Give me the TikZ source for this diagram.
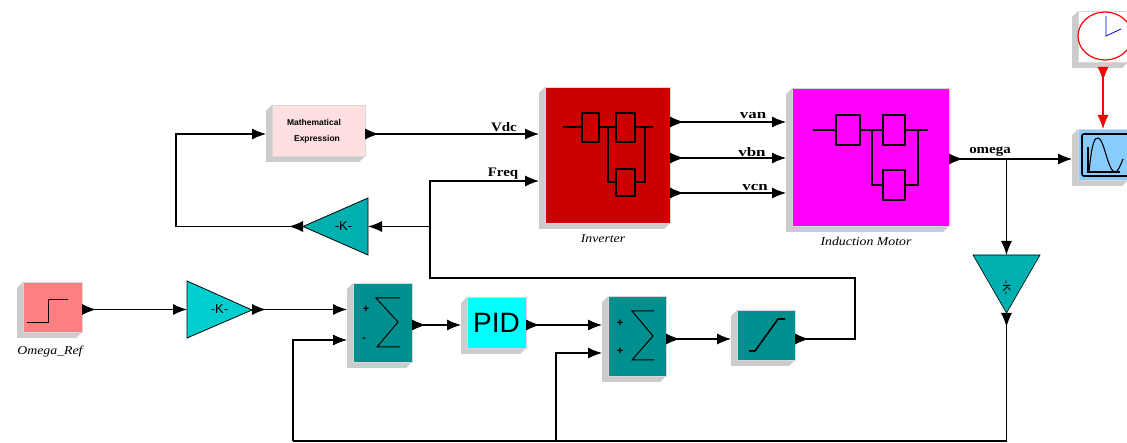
\documentclass[tikz,border=0pt]{standalone}
\usepackage{fontspec}
\setmainfont{Liberation Serif}
\setsansfont{Liberation Sans}
\usetikzlibrary{arrows.meta,decorations.markings}
\definecolor{blockshadow}{HTML}{CCCCCC}
\definecolor{edgelt}{HTML}{D8D8D8}
\definecolor{invred}{HTML}{CC0000}
\definecolor{motormag}{HTML}{FF00FF}
\definecolor{steppink}{HTML}{FF8080}
\definecolor{gainA}{HTML}{00CFCF}
\definecolor{gainB}{HTML}{00AFAF}
\definecolor{sumteal}{HTML}{008F8F}
\definecolor{pidcy}{HTML}{00FFFF}
\definecolor{mathpk}{HTML}{FFE0E0}
\definecolor{scopeb}{HTML}{88CCFF}
\tikzset{
  x=1pt,y=-1pt,
  face/.style={draw=edgelt,line width=.6pt,inner sep=0pt,outer sep=0pt,rectangle},
  gainnode/.style={inner sep=0pt,outer sep=0pt,rectangle,font=\sffamily\fontsize{13}{13}\selectfont},
  gainshape/.style={draw=black,line width=.8pt},
  plainwire/.style={line width=1.1pt},
  inwire/.style={plainwire,line join=miter,-{Latex[length=14pt,width=11pt]}},
  tailwire/.style={plainwire,postaction={decorate},
    decoration={markings,mark=at position 14pt with {\arrow{Latex[length=14pt,width=11pt]}}}},
  wire/.style={inwire,postaction={decorate},
    decoration={markings,mark=at position 14pt with {\arrow{Latex[length=14pt,width=11pt]}}}},
  icon/.style={line width=1pt},
  iconthick/.style={line width=2pt,line join=round},
  siglabel/.style={inner sep=0pt,font=\bfseries\fontsize{13}{13}\selectfont},
  captiontext/.style={inner sep=0pt,font=\itshape\fontsize{12}{13}\selectfont},
}
% name, x1, y1, x2, y2, fill, text
\newcommand{\slblock}[7]{%
  \fill[blockshadow] (#2,#3) -- ({#2-6},{#3+6}) -- ({#2-6},{#5+6}) -- ({#4-6},{#5+6}) -- (#4,#5) -- cycle;
  \pgfmathsetmacro{\bw}{#4-#2}\pgfmathsetmacro{\bh}{#5-#3}
  \node[face,fill=#6,minimum width=\bw pt,minimum height=\bh pt] (#1) at ({(#2+#4)/2},{(#3+#5)/2}) {#7};
}
\begin{document}
\begin{tikzpicture}
\useasboundingbox (0,0) rectangle (1127,443);
\clip (0,0) rectangle (1127,443);
\fill[white] (0,0) rectangle (1127,443);

% blocks
\slblock{inv}{545}{87}{670}{223}{invred}{}
\slblock{motor}{792}{88}{949}{226}{motormag}{}
\slblock{clock}{1078}{11}{1128}{62}{white}{}
\slblock{scope}{1078}{129}{1128}{180}{scopeb}{}
\slblock{step}{23}{282}{82}{332}{steppink}{}
\slblock{sumA}{353}{283}{412}{362}{sumteal}{}
\slblock{pid}{467}{297}{526}{348}{pidcy}{\sffamily\fontsize{28}{28}\selectfont PID}
\slblock{sumB}{608}{296}{666}{376}{sumteal}{}
\slblock{sat}{737}{310}{795}{360}{sumteal}{}
\slblock{mathx}{272}{105}{365}{156}{mathpk}{}

% gains
\filldraw[gainshape,fill=gainA] (187,281) -- (187,338) -- (252,310) -- cycle;
\node[gainnode,minimum width=65pt,minimum height=57pt] (gainA) at (219.5,309.5) {-K-};
\filldraw[gainshape,fill=gainB] (303,226.5) -- (368,198) -- (368,255) -- cycle;
\node[gainnode,minimum width=65pt,minimum height=57pt] (gainB) at (335.5,226.5) {\hspace*{16pt}-K-};
\filldraw[draw=black,line width=.6pt,fill=gainB] (973,255) -- (1040,255) -- (1006.5,313) -- cycle;
\node[gainnode,minimum width=67pt,minimum height=58pt] (gainC) at (1006.5,284) {};
\node[inner sep=0pt,font=\sffamily\fontsize{11}{11}\selectfont,rotate=-90] at (1007,288) {-K-};

% inverter and motor icons
\draw[iconthick] (563,127) -- (582,127) (599,127) -- (616,127) (635,127) -- (653,127)
  (608,127) -- (608,182) -- (616,182) (635,182) -- (645,182) -- (645,127)
  (582,113) rectangle (599,142) (616,113) rectangle (635,142) (616,169) rectangle (635,196);
\draw[iconthick] (813,130) -- (836,130) (860,130) -- (883,130) (905,130) -- (928,130)
  (872,130) -- (872,185) -- (883,185) (905,185) -- (918,185) -- (918,130)
  (836,115) rectangle (860,145) (883,115) rectangle (905,145) (883,170) rectangle (905,200);

% math text
\node[inner sep=0pt,font=\sffamily\bfseries\fontsize{8.5}{9}\selectfont] at (314,122) {Mathematical};
\node[inner sep=0pt,font=\sffamily\bfseries\fontsize{8.5}{9}\selectfont] at (317,139) {Expression};

% step, sum, saturation icons
\draw[icon] (27,323) -- (48,323) -- (48,300) -- (68,300);
\draw[icon] (400,298) -- (376,298) -- (398,322) -- (377,347) -- (400,347);
\draw[icon] (654,311) -- (632,311) -- (653,336) -- (632,360) -- (654,360);
\node[inner sep=0pt,font=\sffamily\bfseries\fontsize{11}{11}\selectfont] at (366,309) {+};
\node[inner sep=0pt,font=\sffamily\bfseries\fontsize{11}{11}\selectfont] at (364,340) {-};
\node[inner sep=0pt,font=\sffamily\bfseries\fontsize{11}{11}\selectfont] at (620,323) {+};
\node[inner sep=0pt,font=\sffamily\bfseries\fontsize{11}{11}\selectfont] at (620,351) {+};
\draw[iconthick,line width=1.6pt] (749,351) -- (755,351) -- (778,319) -- (785,319);

% clock and scope icons
\draw[red,line width=1.2pt] (1105,36) ellipse [x radius=27,y radius=24];
\draw[blue!80!black,line width=.8pt] (1106,16) -- (1106,36) -- (1121,29);
\draw[line width=1.6pt,rounded corners=2pt] (1082,134) rectangle (1135,176);
\draw[line width=1.6pt] (1088,147) -- (1088,172) -- (1120,172);
\draw[line width=1.1pt] (1089,172) .. controls (1092,140) and (1095,138) .. (1098,138)
  .. controls (1104,138) and (1108,172) .. (1115,172) .. controls (1118,172) and (1120,166) .. (1123,159);

% named junctions
\coordinate (jOmega) at (1006.5,159);
\coordinate (jBus) at (1006.5,441);
\coordinate (jFbA) at (293,441);
\coordinate (jFbB) at (556,441);
\coordinate (jFreq) at (430,226.5);
\coordinate (jSatR) at (855,278);
\coordinate (jSatL) at (430,278);

% connectors
\draw[wire] ([yshift=-2.5pt]step.east) -- (gainA.west);
\draw[wire] (gainA.east) -- ([xshift=-6pt]sumA.west |- gainA.east);
\draw[wire] ([yshift=-2.5pt]sumA.east) -- ([xshift=-6pt,yshift=-2.5pt]pid.west);
\draw[wire] ([yshift=-2.5pt]pid.east) -- ([xshift=-6pt,yshift=11pt]sumB.west);
\draw[wire] ([yshift=-3pt]sumB.east) -- ([xshift=-6pt,yshift=-4pt]sat.west);
\draw[wire] ([yshift=-4pt]sat.east) -| (jSatR) -- (jSatL) |- ([xshift=-6pt,yshift=-26pt]inv.west);
\draw[inwire] (jFreq) -- (gainB.east);
\draw[wire] (gainB.west) -| (176,134) -- ([xshift=-6pt,yshift=-3.5pt]mathx.west);
\draw[wire] ([yshift=-3.5pt]mathx.east) -- ([xshift=-6pt,yshift=21pt]inv.west);
\draw[wire] ([yshift=33pt]inv.east) -- ([xshift=-6pt,yshift=35pt]motor.west);
\draw[wire] ([yshift=-3pt]inv.east) -- ([xshift=-6pt,yshift=-1pt]motor.west);
\draw[wire] ([yshift=-38pt]inv.east) -- ([xshift=-6pt,yshift=-36pt]motor.west);
\draw[wire] ([yshift=-2pt]motor.east) -- ([xshift=-6pt,yshift=-4.5pt]scope.west);
\draw[inwire] (jOmega) -- (gainC.north);
\draw[tailwire] (gainC.south) -- (jBus);
\draw[plainwire] (jBus) -- (jFbA);
\draw[inwire] (jFbA) |- ([xshift=-6pt,yshift=-17.5pt]sumA.west);
\draw[inwire] (jFbB) |- ([xshift=-6pt,yshift=-17pt]sumB.west);
\draw[wire,red] ([yshift=-5pt]clock.south) -- (scope.north);

% labels
\node[siglabel] at (753,116) {\scalebox{1.3}[1]{van}};
\node[siglabel] at (752,152) {\scalebox{1.3}[1]{vbn}};
\node[siglabel] at (755,188) {\scalebox{1.3}[1]{vcn}};
\node[siglabel] at (990,152) {\scalebox{1.15}[1]{omega}};
\node[siglabel] at (504,127) {\scalebox{1.15}[1]{Vdc}};
\node[siglabel] at (503,174) {\scalebox{1.15}[1]{Freq}};
\node[captiontext] at (603,239) {\scalebox{1.15}[1]{Inverter}};
\node[captiontext] at (866,241) {\scalebox{1.15}[1]{Induction Motor}};
\node[captiontext] at (50,352) {\scalebox{1.15}[1]{Omega\_Ref}};
\end{tikzpicture}
\end{document}
